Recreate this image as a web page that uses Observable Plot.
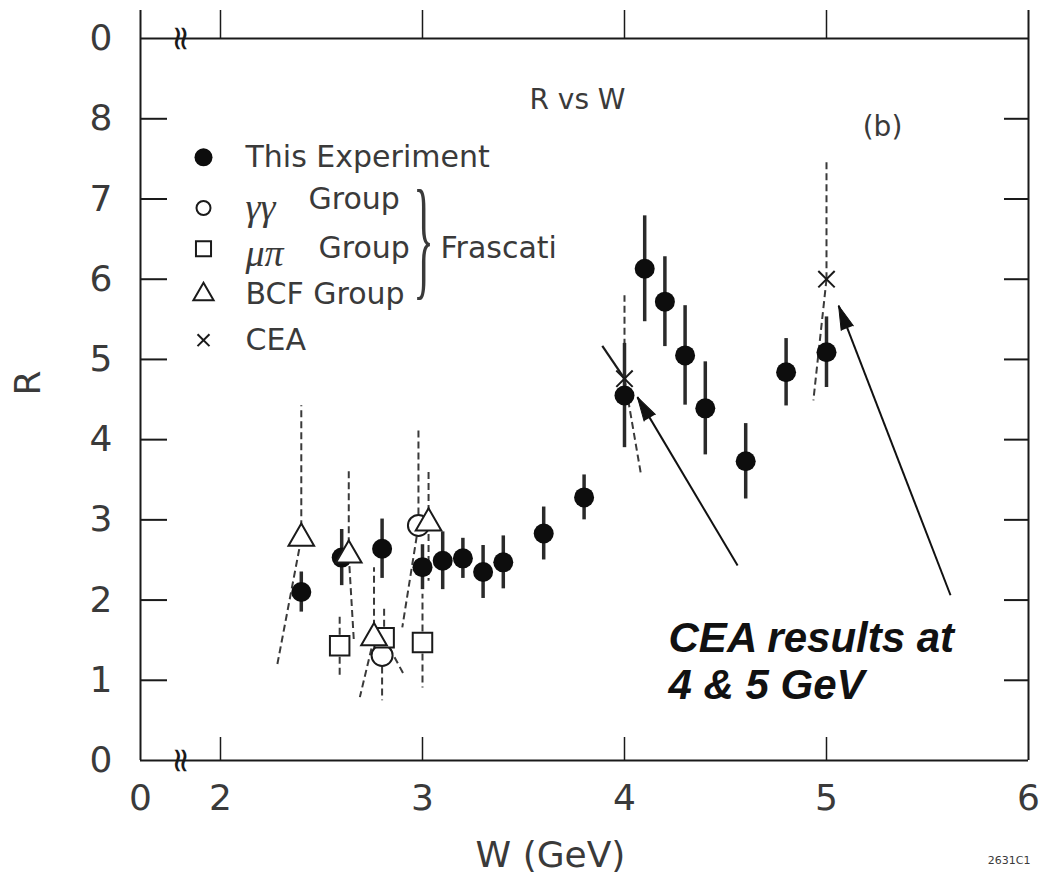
<!DOCTYPE html>
<html><head><meta charset="utf-8">
<script src="https://cdn.jsdelivr.net/npm/d3@7"></script>
<script src="https://cdn.jsdelivr.net/npm/@observablehq/plot@0.6"></script>
<style>
html,body{margin:0;padding:0;background:#fff;}
#chart{width:1041px;height:877px;}
</style></head><body><div id="chart"></div>
<script>
// ---------- data ----------
// This Experiment (filled circles, solid error bars)
const expW   = [2.4, 2.6, 2.8, 3.0, 3.1, 3.2, 3.3, 3.4, 3.6, 3.8, 4.0, 4.1, 4.2, 4.3, 4.4, 4.6, 4.8, 5.0];
const expR   = [2.10, 2.53, 2.64, 2.41, 2.49, 2.52, 2.35, 2.47, 2.83, 3.28, 4.55, 6.13, 5.72, 5.05, 4.39, 3.73, 4.84, 5.09];
const expErr = [0.25, 0.35, 0.37, 0.28, 0.36, 0.25, 0.33, 0.33, 0.33, 0.28, 0.65, 0.66, 0.56, 0.62, 0.58, 0.47, 0.42, 0.44];

// Frascati gamma-gamma group (open circles, dashed bars; lower bar may be slanted)
const ggW   = [2.80, 2.98];
const ggR   = [1.31, 2.93];
const ggHi  = [1.31, 4.15];
const ggLo  = [0.75, 1.66];
const ggLoW = [2.80, 2.90];

// Frascati mu-pi group (open squares)
const mpW   = [2.59, 2.81, 3.00];
const mpR   = [1.43, 1.53, 1.47];
const mpHi  = [1.83, 1.90, 2.08];
const mpLo  = [1.03, 1.06, 0.91];
const mpLoW = [2.59, 2.91, 3.00];

// Frascati BCF group (open triangles)
const bcfW   = [2.40, 2.635, 2.76, 3.03];
const bcfR   = [2.77, 2.56, 1.53, 2.96];
const bcfHi  = [4.43, 3.64, 2.41, 3.64];
const bcfLo  = [1.18, 1.50, 0.79, 2.24];
const bcfLoW = [2.28, 2.66, 2.69, 3.03];

// CEA (crosses)
const ceaW   = [4.00, 5.00];
const ceaR   = [4.76, 6.00];
const ceaHi  = [5.80, 7.50];
const ceaLo  = [3.59, 4.49];
const ceaLoW = [4.08, 4.935];
const ceaSlashW = [3.89];
const ceaSlashR = [5.17];

// annotation arrows (tail -> tip)
const arrowFromW = [4.56, 5.614];
const arrowFromR = [2.43, 2.06];
const arrowToW   = [4.064, 5.06];
const arrowToR   = [4.53, 5.67];

// axes
const xTickValues = [1.604, 2, 3, 4, 5, 6];
const xTickLabels = ["0", "2", "3", "4", "5", "6"];
const yTickValues = [0, 1, 2, 3, 4, 5, 6, 7, 8, 9];
const yTickLabels = ["0", "1", "2", "3", "4", "5", "6", "7", "8", "0"];
const innerTicks  = [1, 2, 3, 4, 5, 6, 7, 8];
const majorW      = [2, 3, 4, 5];

// legend
const legendGreek = ["", "γγ", "μπ", "", ""];
const legendText  = ["This Experiment", "Group", "Group", "BCF Group", "CEA"];
const legendSymbol = ["filled", "circle", "square", "triangle", "times"];

// ---------- layout ----------
const width = 1041, height = 877;
const mL = 140, mR = 13, mT = 10, mB = 117;
const xMin = xTickValues[0], xMax = 6, yMax = 9.35, yTop = 9;
const kx = (width - mL - mR) / (xMax - xMin);   // px per GeV
const ky = (height - mT - mB) / yMax;           // px per R unit

const ink = "#1a1a1a", grey = "#3a3a3a";

const exp = expW.map((w, i) => ({W: w, R: expR[i], lo: expR[i] - expErr[i], hi: expR[i] + expErr[i]}));
const series = (W, R, hi, lo, loW) => W.map((w, i) => ({W: w, R: R[i], hi: hi[i], lo: lo[i], loW: loW[i]}));
const gg  = series(ggW, ggR, ggHi, ggLo, ggLoW);
const mp  = series(mpW, mpR, mpHi, mpLo, mpLoW);
const bcf = series(bcfW, bcfR, bcfHi, bcfLo, bcfLoW);
const cea = series(ceaW, ceaR, ceaHi, ceaLo, ceaLoW);

const segs = [];
for (const s of [gg, mp, bcf, cea]) for (const d of s) {
  if (d.hi !== d.R) segs.push({x1: d.W, y1: d.R, x2: d.W, y2: d.hi});
  if (d.lo !== d.R) segs.push({x1: d.W, y1: d.R, x2: d.loW, y2: d.lo});
}
const slash = ceaSlashW.map((w, i) => ({x1: ceaW[i], y1: ceaR[i], x2: w, y2: ceaSlashR[i]}));

const arrows = arrowFromW.map((w, i) => {
  const dxp = (arrowToW[i] - w) * kx, dyp = -(arrowToR[i] - arrowFromR[i]) * ky;
  return {x1: w, y1: arrowFromR[i], x2: arrowToW[i], y2: arrowToR[i],
          angle: Math.atan2(dxp, -dyp) * 180 / Math.PI};
});

const xFmt = new Map(xTickValues.map((v, i) => [v, xTickLabels[i]]));
const yFmt = new Map(yTickValues.map((v, i) => [v, yTickLabels[i]]));

const legMarkX = xMin + 63 / kx, legTextX = xMin + 105 / kx;
const legTop = 7.52, legStep = 0.57;
const legend = legendText.map((t, i) => ({i, y: legTop - i * legStep, mx: legMarkX, tx: legTextX,
  greek: legendGreek[i], text: t, sym: legendSymbol[i]}));
const legRow = s => legend.filter(d => d.sym === s);

const tickLx = 27 / kx, tickRx = 24 / kx, tickBy = 23 / ky;
const brkX = xMin + 40 / kx;

const chart = Plot.plot({
  width, height, marginLeft: mL, marginRight: mR, marginTop: mT, marginBottom: mB,
  x: {domain: [xMin, xMax]},
  y: {domain: [0, yMax]},
  style: {fontFamily: "DejaVu Sans, sans-serif", background: "white", color: grey, overflow: "visible"},
  marks: [
    // frame
    Plot.ruleX([xMin, xMax], {y1: 0, y2: yMax, stroke: ink, strokeWidth: 2}),
    Plot.ruleY([0, yTop], {x1: xMin, x2: xMax, stroke: ink, strokeWidth: 2}),
    // ticks
    Plot.ruleY(innerTicks, {x1: xMin, x2: xMin + tickLx, stroke: ink, strokeWidth: 2}),
    Plot.ruleY(innerTicks, {x1: xMax - tickRx, x2: xMax, stroke: ink, strokeWidth: 2}),
    Plot.ruleX(majorW, {y1: 0, y2: tickBy, stroke: ink, strokeWidth: 1.5}),
    Plot.ruleX(majorW, {y1: yTop, y2: yMax, stroke: ink, strokeWidth: 1.5}),
    // axis labels
    Plot.axisX(xTickValues, {tickFormat: d => xFmt.get(d), tickSize: 0, tickPadding: 24, fontSize: 36, label: null}),
    Plot.axisY(yTickValues, {tickFormat: d => yFmt.get(d), tickSize: 0, tickPadding: 28, fontSize: 36, label: null}),
    // axis breaks
    Plot.text([0, yTop], {x: brkX, y: d => d, text: () => "≈", rotate: 90, fontSize: 34, fill: ink}),
    // titles
    Plot.text(["W (GeV)"], {frameAnchor: "bottom", text: d => d, dx: -34, dy: 95, fontSize: 36, lineAnchor: "middle"}),
    Plot.text(["R"], {frameAnchor: "left", text: d => d, dx: -112, dy: 10, rotate: -90, fontSize: 36}),
    Plot.text(["2631C1"], {frameAnchor: "bottom-right", text: d => d, dx: 2, dy: 100, fontSize: 11, textAnchor: "end", lineAnchor: "middle"}),
    Plot.text(["R vs W"], {frameAnchor: "top", text: d => d, dx: -7, dy: 90, fontSize: 28, lineAnchor: "middle"}),
    Plot.text(["(b)"], {frameAnchor: "top-right", text: d => d, dx: -146, dy: 117, fontSize: 28, lineAnchor: "middle", textAnchor: "middle"}),
    // error bars
    Plot.link(segs, {x1: "x1", y1: "y1", x2: "x2", y2: "y2", stroke: grey, strokeWidth: 2, strokeDasharray: "7,4"}),
    Plot.link(slash, {x1: "x1", y1: "y1", x2: "x2", y2: "y2", stroke: ink, strokeWidth: 2.2}),
    Plot.ruleX(exp, {x: "W", y1: "lo", y2: "hi", stroke: "#2a2a2a", strokeWidth: 3.5}),
    // points
    Plot.dot(exp, {x: "W", y: "R", r: 10, fill: "#0d0d0d"}),
    Plot.dot(gg, {x: "W", y: "R", r: 10.5, symbol: "circle", fill: "white", stroke: ink, strokeWidth: 2}),
    Plot.dot(mp, {x: "W", y: "R", r: 11, symbol: "square", fill: "white", stroke: ink, strokeWidth: 2}),
    Plot.dot(bcf, {x: "W", y: "R", r: 9.5, symbol: "triangle", fill: "white", stroke: ink, strokeWidth: 2}),
    Plot.dot(cea, {x: "W", y: "R", r: 7.5, symbol: "times", stroke: ink, strokeWidth: 2}),
    // legend
    Plot.dot(legRow("filled"), {x: "mx", y: "y", r: 9, fill: "#0d0d0d"}),
    Plot.dot(legRow("circle"), {x: "mx", y: "y", r: 7, symbol: "circle", stroke: ink, strokeWidth: 2, dy: 5}),
    Plot.dot(legRow("square"), {x: "mx", y: "y", r: 8.5, symbol: "square", stroke: ink, strokeWidth: 2}),
    Plot.dot(legRow("triangle"), {x: "mx", y: "y", r: 7.5, symbol: "triangle", stroke: ink, strokeWidth: 2}),
    Plot.dot(legRow("times"), {x: "mx", y: "y", r: 5.5, symbol: "times", stroke: ink, strokeWidth: 2}),
    Plot.text(legend.filter(d => !d.greek), {x: "tx", y: "y", text: "text", textAnchor: "start", fontSize: 30, lineAnchor: "middle"}),
    Plot.text(legend.filter(d => d.greek), {x: "tx", y: "y", text: "greek", textAnchor: "start", fontSize: 38, fontStyle: "italic", fontFamily: "Liberation Serif, serif", dy: 5, lineAnchor: "middle"}),
    Plot.text(legend.filter(d => d.i === 1), {x: "tx", y: "y", text: "text", textAnchor: "start", fontSize: 30, dx: 63, dy: -4, lineAnchor: "middle"}),
    Plot.text(legend.filter(d => d.i === 2), {x: "tx", y: "y", text: "text", textAnchor: "start", fontSize: 30, dx: 73, lineAnchor: "middle"}),
    Plot.text(legend.filter(d => d.i === 2), {x: "tx", y: "y", text: () => "}", textAnchor: "middle", fontSize: 134, fontFamily: "Liberation Serif, serif", dx: 178, dy: -10, lineAnchor: "middle", fill: grey}),
    Plot.text(legend.filter(d => d.i === 2), {x: "tx", y: "y", text: () => "Frascati", textAnchor: "start", fontSize: 30, dx: 195, lineAnchor: "middle"}),
    // annotation
    Plot.link(arrows, {x1: "x1", y1: "y1", x2: "x2", y2: "y2", stroke: "#111", strokeWidth: 2}),
    Plot.vector(arrows, {x: "x2", y: "y2", rotate: "angle", length: 24, r: 6.5, shape: "spike", anchor: "end", fill: "#111", stroke: "#111", strokeWidth: 1}),
    Plot.text(["CEA results at\n4 & 5 GeV"], {x: () => 4.218, y: () => 1.77, text: d => d, textAnchor: "start", lineAnchor: "top",
      fontSize: 42, lineHeight: 1.12, fontWeight: "bold", fontStyle: "italic", fontFamily: "Liberation Sans, Arial, sans-serif", fill: "#111"})
  ]
});

// narrow the brace glyph horizontally
chart.querySelectorAll("text").forEach(t => {
  if (t.textContent === "}") {
    const tr = t.getAttribute("transform");
    const x = t.getAttribute("x"), y = t.getAttribute("y");
    if (x != null && y != null) {
      t.setAttribute("transform", `${tr ? tr + " " : ""}translate(${x},${y}) scale(0.32,1) translate(${-x},${-y})`);
    } else {
      t.setAttribute("transform", `${tr ? tr + " " : ""}scale(0.32,1)`);
    }
  }
});

document.getElementById("chart").appendChild(chart);
</script>
</body></html>
